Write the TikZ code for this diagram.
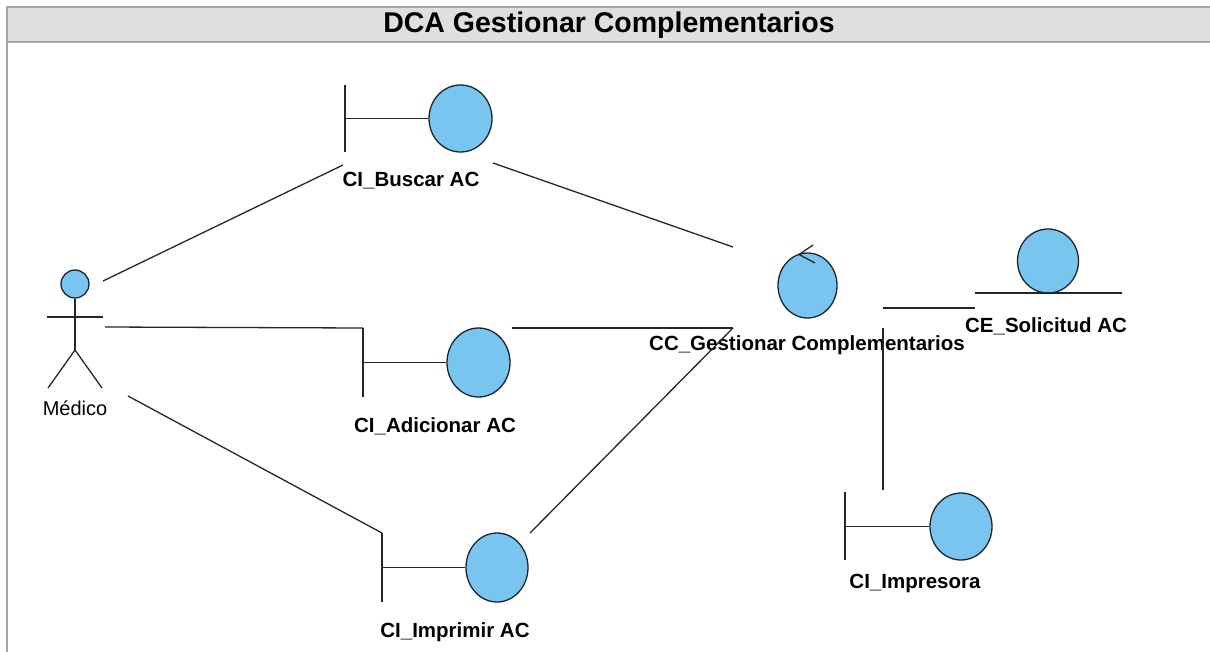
\documentclass[tikz,border=0pt]{standalone}
\usepackage{fontspec}
\setmainfont{Liberation Sans}
\usetikzlibrary{shapes.geometric}
\definecolor{ballfill}{HTML}{78C6F0}
\definecolor{ballline}{HTML}{1A2530}
\definecolor{barfill}{HTML}{DFDFDF}
\definecolor{barline}{HTML}{A6A6A6}
\begin{document}
\begin{tikzpicture}[x=1pt,y=-1pt,
  ball/.style={ellipse, draw=ballline, fill=ballfill, line width=1.3pt, inner sep=0pt},
  stroke/.style={line width=1.3pt, black!85},
  conn/.style={line width=1.3pt, black!85},
  lbl/.style={font=\fontsize{20.5}{24}\selectfont\bfseries, inner sep=0pt},
  actlbl/.style={font=\fontsize{20}{23}\selectfont, inner sep=0pt},
  titlestyle/.style={font=\fontsize{28.5}{32}\selectfont\bfseries, inner sep=0pt}]
\useasboundingbox (0,0) rectangle (1210,651);

% frame with title bar
\fill[barfill] (7,7) rectangle (1212,42);
\draw[barline, line width=2.4pt] (1212,7) -- (7,7) -- (7,655);
\draw[barline, line width=2.4pt] (7,42) -- (1212,42);
\node[titlestyle] (title) at (609,25) {DCA Gestionar Complementarios};

% actor
\node[ball, minimum width=28pt, minimum height=28pt] (head) at (75,284) {};
\coordinate (hip) at (75,350);
\draw[stroke] (head.south) -- (hip);
\draw[stroke] (47,317) -- (103,317);
\draw[stroke] (hip) -- (48,388);
\draw[stroke] (hip) -- (102,388);
\node[actlbl] (medico) at (75,408) {Médico};

% boundary CI_Buscar AC
\node[ball, minimum width=63pt, minimum height=67pt] (buscar) at (460.5,118.5) {};
\draw[stroke] (345,85) -- (345,152);
\draw[stroke] (345,118.5) -- (buscar.west);
\node[lbl] (buscarlbl) at (411,181) {CI\_Buscar AC};

% boundary CI_Adicionar AC
\node[ball, minimum width=63pt, minimum height=69pt] (adic) at (478.5,362.5) {};
\draw[stroke] (363,328) -- (363,397);
\draw[stroke] (363,362.5) -- (adic.west);
\node[lbl] (adiclbl) at (435,426) {CI\_Adicionar AC};

% boundary CI_Imprimir AC
\node[ball, minimum width=62pt, minimum height=69pt] (impr) at (497,567.5) {};
\draw[stroke] (382,533) -- (382,602);
\draw[stroke] (382,567.5) -- (impr.west);
\node[lbl] (imprlbl) at (455,632) {CI\_Imprimir AC};

% control CC_Gestionar Complementarios
\node[ball, minimum width=59pt, minimum height=65pt] (ctrl) at (807.5,285.5) {};
\draw[stroke] (813,245) -- (799,254.5) -- (815,263);
\node[lbl] (ctrllbl) at (807,345) {CC\_Gestionar Complementarios};

% entity CE_Solicitud AC
\node[ball, minimum width=61pt, minimum height=64pt] (ent) at (1048,261) {};
\draw[stroke] (975,293) -- (1122,293);
\node[lbl] (entlbl) at (1046,326) {CE\_Solicitud AC};

% boundary CI_Impresora
\node[ball, minimum width=62pt, minimum height=67pt] (prn) at (961,526.5) {};
\draw[stroke] (845,492) -- (845,560);
\draw[stroke] (845,526.5) -- (prn.west);
\node[lbl] (prnlbl) at (915,583) {CI\_Impresora};

% connector end points
\coordinate (m1) at (103,281);
\coordinate (m2) at (105,327);
\coordinate (m3) at (128,396);
\coordinate (b1) at (343,165);
\coordinate (b2) at (493,163);
\coordinate (a1) at (363,328);
\coordinate (a2) at (512,328);
\coordinate (i1) at (382,533);
\coordinate (i2) at (530,533);
\coordinate (c1) at (733,247);
\coordinate (c2) at (733,328);
\coordinate (c3) at (883,308);
\coordinate (c4) at (883,328);
\coordinate (e1) at (975,308);
\coordinate (p1) at (883,490);

% connectors
\draw[conn] (m1) -- (b1);
\draw[conn] (m2) -- (a1);
\draw[conn] (m3) -- (i1);
\draw[conn] (b2) -- (c1);
\draw[conn] (a2) -- (c2);
\draw[conn] (i2) -- (c2);
\draw[conn] (c3) -- (e1);
\draw[conn] (c4) -- (p1);
\end{tikzpicture}
\end{document}
